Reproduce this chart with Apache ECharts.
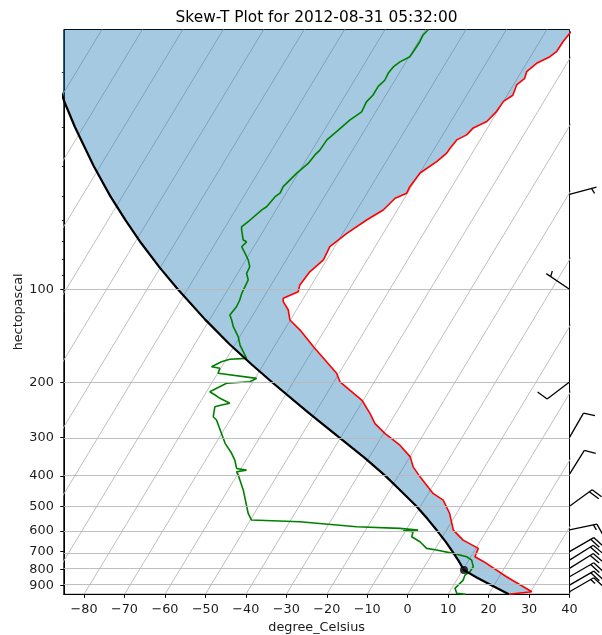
<!DOCTYPE html>
<html><head><meta charset="utf-8">
<script src="https://cdn.jsdelivr.net/npm/echarts@6/dist/echarts.min.js"></script>
<style>html,body{margin:0;padding:0;background:#fff}#c{width:602px;height:635px}</style>
</head><body><div id="c"></div>
<script>
// ---- data (pressure hPa, temperature degC) ----
const pressureTicks = [100, 200, 300, 400, 500, 600, 700, 800, 900];
const minorPressureTicks = [20, 30, 40, 50, 60, 70, 80, 90];
const tempTicks = [-80, -70, -60, -50, -40, -30, -20, -10, 0, 10, 20, 30, 40];
const isotherms = [-170, -160, -150, -140, -130, -120, -110, -100, -90, -80, -70, -60, -50, -40, -30, -20, -10, 0, 10, 20, 30, 40];

const temperature = [
  [961, 25.0], [943, 30.3], [843.6, 21.8], [753, 13.8], [727.4, 11.0], [683.4, 10.6], [643.1, 5.6],
  [597, 1.7], [561.4, 0.0], [527.6, -1.7], [477.8, -5.3], [454.7, -8.8], [402, -14.5], [373.3, -17.7],
  [346.6, -19.9], [318, -24.2], [291.7, -29.6], [270.8, -33.6], [251.5, -36.3], [227.8, -40.3],
  [198.6, -48.5], [186.5, -50.6], [153.1, -60.3], [135.3, -66.1], [125.6, -70.1], [116.6, -72.0],
  [109.6, -74.5], [106.9, -75.0], [101.8, -72.3], [96.8, -72.9], [87.8, -72.4], [80.4, -70.8],
  [72.9, -71.2], [66.0, -69.0], [59.8, -66.1], [55.5, -63.5], [50.9, -62.3], [49.0, -60.2],
  [46.7, -60.4], [42.2, -59.9], [38.8, -57.5], [36.4, -56.3], [35.1, -56.2], [33.0, -55.8],
  [31.8, -54.1], [30.2, -53.5], [28.8, -51.1], [26.7, -50.2], [24.8, -50.0], [23.7, -48.6],
  [21.96, -49.2], [20.9, -48.2], [19.9, -48.7], [18.7, -47.5], [17.8, -45.2], [17.1, -44.3],
  [15.9, -44.2], [14.96, -43.8], [14.55, -43.5]
];

const dewpoint = [
  [961, 14.3], [954.4, 12.0], [919.5, 10.8], [886.2, 11.3], [864.8, 11.6], [833.3, 11.3], [813.2, 12.0],
  [783.5, 12.1], [745.5, 10.7], [727.4, 9.0], [709.3, 5.1], [692.1, 0.5], [683.4, -2.2], [651, -4.8],
  [627.3, -7.6], [604.4, -8.0], [600, -10.6], [596.9, -7.0], [589.4, -11.8], [582.5, -22.7], [561.0, -37.5],
  [554, -49.7], [527.6, -51.5], [443.7, -56.2], [396.9, -59.7], [387.3, -60.6], [382.5, -58.4], [377.7, -61.1],
  [354.9, -62.8], [337.6, -64.6], [313.5, -67.7], [263.8, -73.3], [257.4, -74.6], [238.9, -75.7], [236, -74.3],
  [233, -72.5], [224.5, -75.7], [219.1, -77.4], [213.8, -79.2], [211.1, -78.6], [200.8, -76.3], [198.5, -70.8],
  [193.6, -69.6], [186.5, -79.9], [179.7, -80.2], [177.6, -82.5], [171.1, -80.8], [168.1, -79.1], [166.9, -75.1],
  [164.9, -74.9], [151.2, -78.7], [142.1, -80.4], [132.0, -83.1], [125.6, -84.5], [121.0, -85.7], [113.8, -85.3],
  [108.3, -85.5], [103.0, -86.0], [93.3, -86.4], [88.8, -87.8], [84.6, -88.0], [80.4, -89.4], [76.5, -91.2],
  [72.9, -93.0], [70.3, -92.5], [69.4, -93.6], [64.4, -95.5], [62.9, -96.0], [59.8, -94.9], [55.5, -93.5],
  [54.2, -92.8], [50.3, -92.2], [49.0, -91.5], [46.7, -91.7], [42.3, -90.4], [39.3, -89.0], [36.9, -88.6],
  [35.6, -88.1], [33.0, -87.9], [31.0, -86.7], [28.5, -85.2], [26.8, -83.5], [24.9, -83.8], [23.7, -83.2],
  [22.2, -83.2], [21.2, -82.5], [20.1, -82.7], [19.2, -82.4], [18.5, -81.5], [17.8, -79.8], [17.1, -79.7],
  [15.9, -79.6], [15.15, -79.8], [14.55, -79.3]
];

const parcel = [
  [961, 25.0], [900, 19.5], [850, 14.7], [803, 10.3], [750, 7.6], [700, 4.7], [650, 1.5], [600, -2.2],
  [550, -6.3], [500, -11.0], [450, -16.7], [400, -23.1], [350, -30.9], [300, -40.4], [250, -51.6],
  [200, -65.0], [175, -72.8], [150, -81.5], [125, -91.2], [100, -102.4], [85, -110.2], [70, -119.0],
  [60, -125.6], [50, -133.1], [40, -141.7], [30, -152.1], [25, -158.3], [20, -165.4], [17, -170.3], [14.55, -174.8]
];

const lcl = [803, 10.3];

// wind: pressure (hPa), direction wind blows from (deg), speed (kt)
const windP   = [49.4, 100, 199, 300, 394, 500, 596, 700, 745.5, 792.9, 843.9, 897.4, 943];
const windDir = [75, 304, 233, 30, 32, 54, 78, 60, 58, 58, 60, 60, 60];
const windSpd = [5, 5, 10, 10, 10, 20, 15, 20, 20, 20, 20, 20, 15];

// ---- skew-T transform ----
const P_BOTTOM = 961, P_TOP = 14.55, SKEW = 46.39;
const lp = p => Math.log10(p);
const sx = (T, p) => T + SKEW * (lp(P_BOTTOM) - lp(p));
const toXY = d => [sx(d[1], d[0]), lp(d[0])];

const FONT = 'DejaVu Sans';
const GRIDC = '#b8b8b8';

const series = [];
isotherms.forEach((T, i) => {
  const s = {
    type: 'line', data: [[sx(T, P_BOTTOM), lp(P_BOTTOM)], [sx(T, P_TOP), lp(P_TOP)]],
    symbol: 'none', silent: true, clip: true, z: 1,
    lineStyle: { color: GRIDC, width: 0.9 }
  };
  if (i === 0) {
    s.markLine = {
      symbol: 'none', silent: true, label: { show: false },
      lineStyle: { color: GRIDC, width: 0.9, type: 'solid' },
      data: pressureTicks.map(p => ({ yAxis: lp(p) }))
    };
  }
  series.push(s);
});

series.push({
  type: 'custom', clip: true, z: 2, silent: true,
  data: [[0, 2]],
  renderItem: (params, api) => {
    const pts = temperature.map(d => api.coord(toXY(d)))
      .concat(parcel.slice().reverse().map(d => api.coord(toXY(d))));
    return { type: 'polygon', shape: { points: pts }, style: { fill: 'rgba(31,119,180,0.4)', stroke: null } };
  }
});

series.push({ type: 'line', data: temperature.map(toXY), symbol: 'none', clip: true, z: 3,
  lineStyle: { color: '#ff0000', width: 1.6 } });
series.push({ type: 'line', data: dewpoint.map(toXY), symbol: 'none', clip: true, z: 3,
  lineStyle: { color: '#008000', width: 1.6 } });
series.push({ type: 'line', data: parcel.map(toXY), symbol: 'none', clip: true, z: 4,
  lineStyle: { color: '#000000', width: 2.2 } });
series.push({ type: 'scatter', data: [toXY(lcl)], symbol: 'circle', symbolSize: 8, z: 5,
  itemStyle: { color: '#000' } });

series.push({
  type: 'custom', clip: false, z: 6, silent: true,
  data: windP.map((p, i) => [40, lp(p), i]),
  renderItem: (params, api) => {
    const i = params.dataIndex;
    const base = api.coord([40, lp(windP[i])]);
    const L = 28;
    const d = windDir[i] * Math.PI / 180;
    const s = [Math.sin(d), -Math.cos(d)];
    const n = [-s[1], s[0]];
    const tip = [base[0] + s[0] * L, base[1] + s[1] * L];
    const children = [{ type: 'polyline', shape: { points: [base, tip] } }];
    let spd = Math.round(windSpd[i] / 5) * 5;
    let full = Math.floor(spd / 10), half = (spd % 10) >= 5 ? 1 : 0;
    let off = L;
    for (let k = 0; k < full; k++) {
      const P = [base[0] + s[0] * off, base[1] + s[1] * off];
      const E = [P[0] + n[0] * 0.4 * L + s[0] * 0.125 * L, P[1] + n[1] * 0.4 * L + s[1] * 0.125 * L];
      children.push({ type: 'polyline', shape: { points: [P, E] } });
      off -= 0.125 * L;
    }
    if (half) {
      if (off === L) off -= 1.5 * 0.125 * L;
      const P = [base[0] + s[0] * off, base[1] + s[1] * off];
      const E = [P[0] + n[0] * 0.2 * L + s[0] * 0.0625 * L, P[1] + n[1] * 0.2 * L + s[1] * 0.0625 * L];
      children.push({ type: 'polyline', shape: { points: [P, E] } });
    }
    children.forEach(c => c.style = { stroke: '#000', lineWidth: 1.3, fill: null });
    return { type: 'group', children };
  }
});

const chart = echarts.init(document.getElementById('c'), null, { renderer: 'canvas' });
chart.setOption({
  animation: false,
  backgroundColor: '#fff',
  graphic: [{
    type: 'text', x: 316.6, y: 17.5, silent: true,
    style: { text: 'Skew-T Plot for 2012-08-31 05:32:00', font: '15.4px "DejaVu Sans"', fill: '#000',
      textAlign: 'center', textVerticalAlign: 'middle' }
  }],
  grid: { left: 63.8, top: 29.5, width: 505.7, height: 564.8, show: true, borderColor: '#000', borderWidth: 1,
    backgroundColor: 'transparent', containLabel: false, outerBoundsMode: 'none' },
  xAxis: {
    type: 'value', min: -85, max: 40,
    axisLine: { show: true, onZero: false, lineStyle: { color: '#000', width: 1 } },
    axisTick: { show: true, length: 3.5, lineStyle: { color: '#000', width: 1 }, customValues: tempTicks },
    axisLabel: { customValues: tempTicks, margin: 9, fontFamily: FONT, fontSize: 12.8, color: '#1a1a1a',
      formatter: v => (v < 0 ? '\u2212' : '') + Math.abs(Math.round(v)) },
    splitLine: { show: false },
    name: 'degree_Celsius', nameLocation: 'middle', nameGap: 27,
    nameTextStyle: { fontFamily: FONT, fontSize: 12.8, color: '#1a1a1a' }
  },
  yAxis: [{
    type: 'value', inverse: true, min: lp(P_TOP), max: lp(P_BOTTOM),
    axisLine: { show: true, onZero: false, lineStyle: { color: '#000', width: 1 } },
    axisTick: { show: true, length: 3.5, lineStyle: { color: '#000', width: 1 }, customValues: pressureTicks.map(lp) },
    axisLabel: { customValues: pressureTicks.map(lp), margin: 10, fontFamily: FONT, fontSize: 12.8, color: '#1a1a1a',
      formatter: v => String(Math.round(Math.pow(10, v))) },
    splitLine: { show: false },
    name: 'hectopascal', nameLocation: 'middle', nameGap: 39, nameRotate: 90, nameMoveOverlap: false,
    nameTextStyle: { fontFamily: FONT, fontSize: 12.8, color: '#1a1a1a' }
  }, {
    type: 'value', inverse: true, min: lp(P_TOP), max: lp(P_BOTTOM), position: 'left',
    axisLine: { show: false, onZero: false },
    axisTick: { show: true, length: 2, lineStyle: { color: '#000', width: 0.8 }, customValues: minorPressureTicks.map(lp) },
    axisLabel: { show: false }, splitLine: { show: false }
  }],
  series
});
</script>
</body></html>
